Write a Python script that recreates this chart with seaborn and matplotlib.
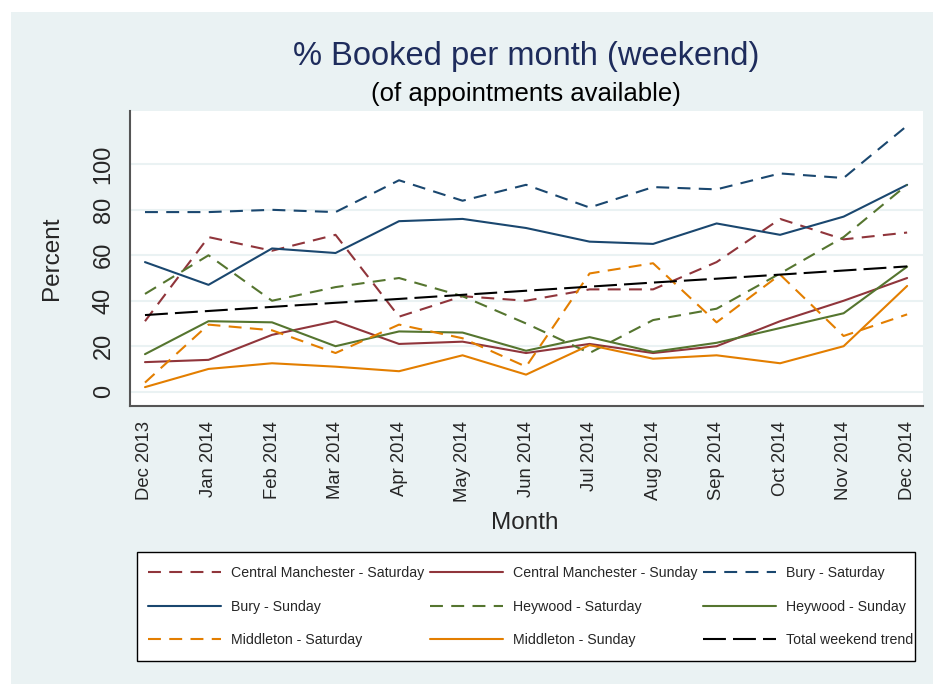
"""
% Booked per month (weekend) - line chart in the style of a Stata s2color graph.
"""
import pandas as pd
import matplotlib
matplotlib.use("Agg")
import matplotlib.pyplot as plt
import seaborn as sns
from matplotlib.lines import Line2D
from matplotlib.patches import Rectangle

# ---- data ----
months = ["Dec 2013", "Jan 2014", "Feb 2014", "Mar 2014", "Apr 2014", "May 2014", "Jun 2014",
          "Jul 2014", "Aug 2014", "Sep 2014", "Oct 2014", "Nov 2014", "Dec 2014"]

cm_sat = [31, 68, 62, 69, 33, 42, 40, 45, 45, 57, 76, 67, 70]
cm_sun = [13, 14, 25, 31, 21, 22, 17, 21, 17, 20, 31, 40, 50]
bury_sat = [79, 79, 80, 79, 93, 84, 91, 81, 90, 89, 96, 94, 117]
bury_sun = [57, 47, 63, 61, 75, 76, 72, 66, 65, 74, 69, 77, 91]
heywood_sat = [43, 60, 40, 46, 50, 42, 30, 17, 31.5, 36.5, 52, 68, 91]
heywood_sun = [16.5, 31, 30.5, 20, 26.5, 26, 18, 24, 17.5, 21.5, 28, 34.5, 55]
middleton_sat = [4, 29.5, 27, 17, 29.5, 23.5, 11, 52, 56.5, 30.5, 51.5, 24.5, 34]
middleton_sun = [2, 10, 12.5, 11, 9, 16, 7.5, 20.5, 14.5, 16, 12.5, 20, 46.5]
total_trend = [33.7, 35.5, 37.3, 39.1, 40.8, 42.6, 44.4, 46.2, 48.0, 49.7, 51.5, 53.3, 55.1]

series_labels = ["Central Manchester - Saturday", "Central Manchester - Sunday", "Bury - Saturday",
                 "Bury - Sunday", "Heywood - Saturday", "Heywood - Sunday",
                 "Middleton - Saturday", "Middleton - Sunday", "Total weekend trend"]
series_values = [cm_sat, cm_sun, bury_sat, bury_sun, heywood_sat, heywood_sun,
                 middleton_sat, middleton_sun, total_trend]

# stata s2color palette
navy, maroon, green, orange = "#1a476f", "#90353b", "#55752f", "#e37e00"
series_colors = [maroon, maroon, navy, navy, green, green, orange, orange, "black"]
dash = (0, (6.2, 4))
series_styles = [dash, "-", dash, "-", dash, "-", dash, "-", (0, (11, 3.4))]

BG = "#eaf2f3"
AXC = "#555555"
W, H = 933, 684

sns.set_style("white")
plt.rcParams["font.family"] = ["Liberation Sans", "DejaVu Sans"]

fig = plt.figure(figsize=(W / 100, H / 100), dpi=100)
fig.patch.set_facecolor("white")
# graph region (leaves a thin white strip on top/left like the reference)
fig.add_artist(Rectangle((11 / W, 0), 1 - 11 / W, 1 - 12 / H, transform=fig.transFigure,
                         facecolor=BG, edgecolor="none", zorder=0))

ax = fig.add_axes([130 / W, 1 - 406 / H, 793 / W, 295.3 / H])
ax.set_facecolor("white")

x = list(range(len(months)))
for label, vals, col, ls in zip(series_labels, series_values, series_colors, series_styles):
    df = pd.DataFrame({"month": x, "pct": vals})
    sns.lineplot(data=df, x="month", y="pct", ax=ax, color=col, linestyle=ls,
                 linewidth=1.5, label=label, legend=False)

ax.set_xlim(-0.236, 12.25)
ax.set_ylim(-6.3, 123.6)
ax.set_yticks([0, 20, 40, 60, 80, 100])
ax.set_xticks(x)
ax.set_xticklabels(months, rotation=90)
ax.tick_params(axis="y", labelrotation=90, labelsize=17, length=7, width=1.3, color=AXC, pad=4)
ax.tick_params(axis="x", labelsize=13.3, length=7, width=1.3, color=AXC, pad=4)
for lab in ax.get_yticklabels():
    lab.set_va("center")
ax.grid(axis="y", color=BG, linewidth=1.5)
ax.set_axisbelow(True)

for side in ["top", "right"]:
    ax.spines[side].set_visible(False)
for side in ["left", "bottom"]:
    ax.spines[side].set_color(AXC)
    ax.spines[side].set_linewidth(1.5)

ax.set_xlabel("")
ax.set_ylabel("")
fig.text(52 / W, 1 - 258 / H, "Percent", rotation=90, ha="center", va="center", fontsize=17.5)
fig.text(525 / W, 1 - 523 / H, "Month", ha="center", va="center", fontsize=17.5)

fig.text(526 / W, 1 - 56 / H, "% Booked per month (weekend)", ha="center", va="center",
         fontsize=23.5, color="#1e2c5c")
fig.text(526 / W, 1 - 94 / H, "(of appointments available)", ha="center", va="center",
         fontsize=18.5, color="black")

# legend box drawn by hand, entries filled row by row as in stata
fig.add_artist(Rectangle((137 / W, 1 - 661 / H), 778 / W, 109 / H, transform=fig.transFigure,
                         facecolor="white", edgecolor="black", linewidth=1.0, zorder=1))
handles = [Line2D([], [], color=c, linestyle=s, linewidth=1.5) for c, s in zip(series_colors, series_styles)]
order = [0, 3, 6, 1, 4, 7, 2, 5, 8]
leg = fig.legend([handles[i] for i in order], [series_labels[i] for i in order], ncol=3,
                 loc="upper left", bbox_to_anchor=(148 / W, 1 - 566 / H), fontsize=10.2,
                 frameon=False, handlelength=5.15, handletextpad=0.7, columnspacing=0.42,
                 labelspacing=1.38, borderpad=0, borderaxespad=0)
leg.set_zorder(2)

fig.savefig("out.png", dpi=100, facecolor=fig.get_facecolor())
